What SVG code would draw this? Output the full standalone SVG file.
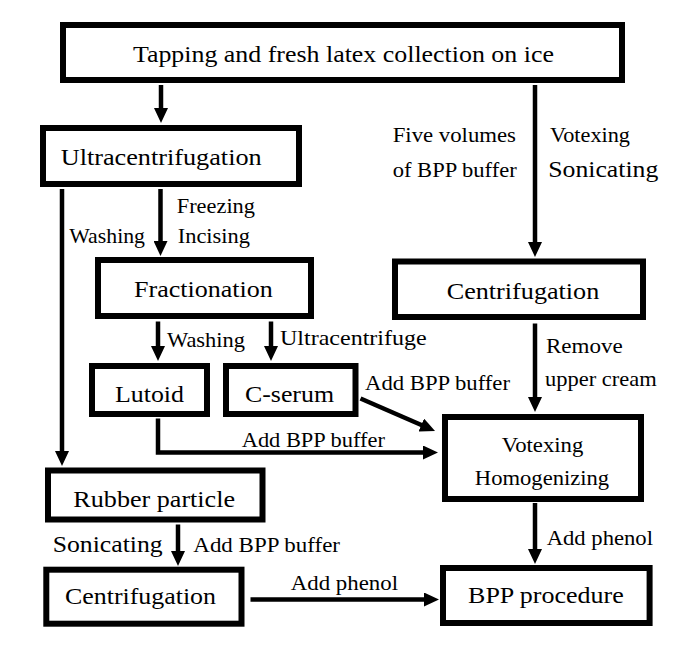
<svg xmlns="http://www.w3.org/2000/svg" width="685" height="645" viewBox="0 0 685 645">
  <style>
    .box { fill: #fff; stroke: #000; stroke-width: 6; }
    text { font-family: 'Liberation Serif', 'DejaVu Serif', serif; fill: #000; }
    .bt { font-size: 24px; text-anchor: middle; }
    .lb { font-size: 21px; }
    .lb2 { font-size: 23px; }
    #connectors path { fill: none; stroke: #000; stroke-width: 4.5; marker-end: url(#ah); }
  </style>
  <defs>
    <marker id="ah" markerUnits="userSpaceOnUse" markerWidth="15" markerHeight="14" refX="7" refY="7" orient="auto">
      <path d="M0,0 L15,7 L0,14 z" fill="#000"/>
    </marker>
  </defs>
  <rect width="685" height="645" fill="#fff"/>

  <g id="connectors">
    <path d="M161,85 V115"/>
    <path d="M535,85 V249"/>
    <path d="M62,189 V458"/>
    <path d="M160.5,189 V248"/>
    <path d="M158,321.5 V353"/>
    <path d="M271,321.5 V353"/>
    <path d="M535,323.5 V404"/>
    <path d="M360.5,398.5 L427.7,427.8"/>
    <path d="M158,418.5 V452.5 H430"/>
    <path d="M535,503 V556"/>
    <path d="M178,524.5 V558"/>
    <path d="M250.5,599.5 H431"/>
  </g>

  <g id="labels">
    <text class="lb" x="392.7" y="141.7" textLength="123.3" lengthAdjust="spacingAndGlyphs">Five volumes</text>
    <text class="lb" x="392.7" y="176.7" textLength="124" lengthAdjust="spacingAndGlyphs">of BPP buffer</text>
    <text class="lb" x="550" y="141.7" textLength="80" lengthAdjust="spacingAndGlyphs">Votexing</text>
    <text class="lb2" x="548.3" y="176.7" textLength="110" lengthAdjust="spacingAndGlyphs">Sonicating</text>
    <text class="lb" x="176.7" y="212.7" textLength="78.3" lengthAdjust="spacingAndGlyphs">Freezing</text>
    <text class="lb" x="177.7" y="243.3" textLength="72.3" lengthAdjust="spacingAndGlyphs">Incising</text>
    <text class="lb" x="69.3" y="243.3" textLength="75.7" lengthAdjust="spacingAndGlyphs">Washing</text>
    <text class="lb" x="167" y="346.7" textLength="78" lengthAdjust="spacingAndGlyphs">Washing</text>
    <text class="lb" x="280" y="345" textLength="146.7" lengthAdjust="spacingAndGlyphs">Ultracentrifuge</text>
    <text class="lb" x="546" y="353" textLength="76.8" lengthAdjust="spacingAndGlyphs">Remove</text>
    <text class="lb" x="545" y="386" textLength="111.7" lengthAdjust="spacingAndGlyphs">upper cream</text>
    <text class="lb" x="365" y="390" textLength="145" lengthAdjust="spacingAndGlyphs">Add BPP buffer</text>
    <text class="lb" x="241.7" y="446.7" textLength="143.3" lengthAdjust="spacingAndGlyphs">Add BPP buffer</text>
    <text class="lb" x="546.7" y="545" textLength="106.3" lengthAdjust="spacingAndGlyphs">Add phenol</text>
    <text class="lb2" x="52.7" y="551.7" textLength="110" lengthAdjust="spacingAndGlyphs">Sonicating</text>
    <text class="lb" x="193.3" y="551.7" textLength="146.7" lengthAdjust="spacingAndGlyphs">Add BPP buffer</text>
    <text class="lb" x="290.8" y="590" textLength="107.2" lengthAdjust="spacingAndGlyphs">Add phenol</text>
  </g>

  <g id="tapping">
    <rect class="box" x="63" y="25" width="559" height="55"/>
    <text class="bt" x="343.4" y="62" textLength="421" lengthAdjust="spacingAndGlyphs">Tapping and fresh latex collection on ice</text>
  </g>
  <g id="ultracentrifugation">
    <rect class="box" x="43" y="128" width="256" height="56"/>
    <text x="60.7" y="165" font-size="24" textLength="201" lengthAdjust="spacingAndGlyphs">Ultracentrifugation</text>
  </g>
  <g id="fractionation">
    <rect class="box" x="98" y="260" width="213" height="56"/>
    <text class="bt" x="203.4" y="297" textLength="138.7" lengthAdjust="spacingAndGlyphs">Fractionation</text>
  </g>
  <g id="centrifugation-right">
    <rect class="box" x="395" y="261.5" width="248" height="55.5"/>
    <text class="bt" x="523" y="299.3" textLength="152.6" lengthAdjust="spacingAndGlyphs">Centrifugation</text>
  </g>
  <g id="lutoid">
    <rect class="box" x="92" y="366" width="115" height="48"/>
    <text class="bt" x="149.5" y="402" textLength="69" lengthAdjust="spacingAndGlyphs">Lutoid</text>
  </g>
  <g id="c-serum">
    <rect class="box" x="226" y="366" width="129.5" height="48"/>
    <text class="bt" x="289.5" y="402" textLength="89" lengthAdjust="spacingAndGlyphs">C-serum</text>
  </g>
  <g id="votexing">
    <rect class="box" x="445" y="417" width="196" height="82"/>
    <text x="542.5" y="452" font-size="21" text-anchor="middle" textLength="81.7" lengthAdjust="spacingAndGlyphs">Votexing</text>
    <text x="542" y="485" font-size="21" text-anchor="middle" textLength="134.3" lengthAdjust="spacingAndGlyphs">Homogenizing</text>
  </g>
  <g id="rubber-particle">
    <rect class="box" x="48" y="470.5" width="214.5" height="49"/>
    <text class="bt" x="154.2" y="507" textLength="161.7" lengthAdjust="spacingAndGlyphs">Rubber particle</text>
  </g>
  <g id="centrifugation-left">
    <rect class="box" x="46.3" y="569.7" width="195.2" height="54"/>
    <text class="bt" x="140.5" y="604" textLength="151" lengthAdjust="spacingAndGlyphs">Centrifugation</text>
  </g>
  <g id="bpp-procedure">
    <rect class="box" x="443" y="568" width="206.6" height="55"/>
    <text class="bt" x="545.9" y="603" textLength="155.7" lengthAdjust="spacingAndGlyphs">BPP procedure</text>
  </g>
</svg>
